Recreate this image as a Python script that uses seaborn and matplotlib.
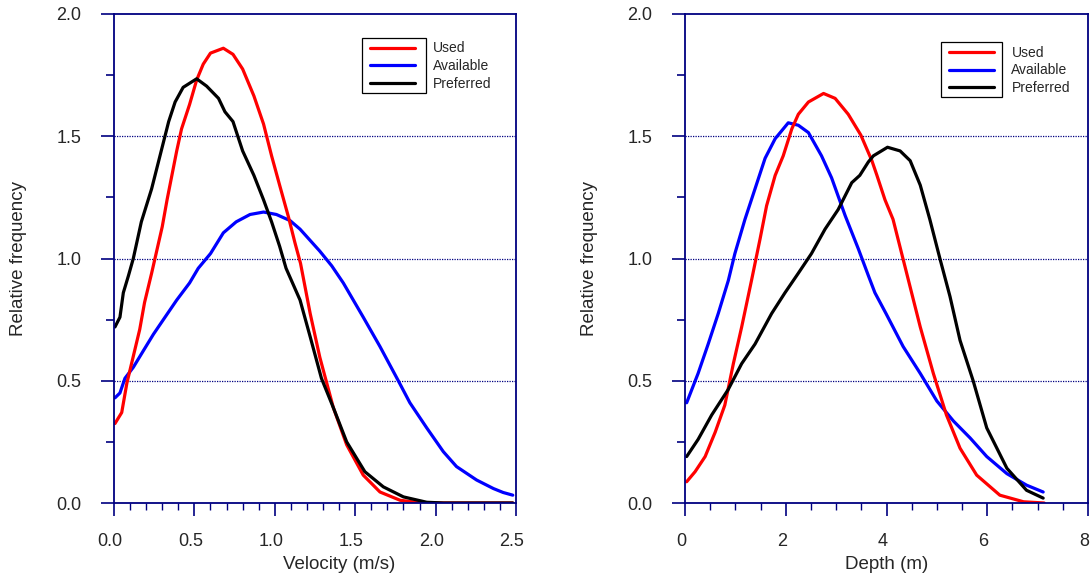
import numpy as np
import pandas as pd
import matplotlib
matplotlib.use("Agg")
import matplotlib.pyplot as plt
import seaborn as sns
from matplotlib.ticker import MultipleLocator, FormatStrFormatter
from matplotlib.patches import Rectangle
from matplotlib.transforms import Bbox, IdentityTransform, ScaledTranslation

# ---------------- data ----------------
series_names = ["Used", "Available", "Preferred"]

# Left panel: velocity
vel_used_x = [0.006, 0.048, 0.08, 0.12, 0.16, 0.19, 0.234, 0.30, 0.33, 0.36, 0.39, 0.42, 0.47,
              0.514, 0.555, 0.60, 0.68, 0.74, 0.80, 0.87, 0.93, 0.98, 1.03, 1.085, 1.125, 1.16,
              1.22, 1.28, 1.364, 1.447, 1.55, 1.654, 1.78, 1.92, 2.2, 2.48]
vel_used_y = [0.325, 0.37, 0.49, 0.60, 0.71, 0.82, 0.94, 1.13, 1.24, 1.34, 1.44, 1.53, 1.63,
              1.73, 1.795, 1.84, 1.86, 1.835, 1.775, 1.665, 1.55, 1.42, 1.30, 1.17, 1.065, 0.98,
              0.775, 0.596, 0.39, 0.238, 0.114, 0.045, 0.011, 0.0, 0.0, 0.0]

vel_avail_x = [0.006, 0.037, 0.068, 0.12, 0.18, 0.245, 0.307, 0.39, 0.47, 0.524, 0.60, 0.68,
               0.76, 0.846, 0.93, 1.01, 1.095, 1.157, 1.28, 1.354, 1.426, 1.55, 1.654, 1.768,
               1.84, 1.945, 2.048, 2.13, 2.255, 2.36, 2.42, 2.48]
vel_avail_y = [0.43, 0.45, 0.51, 0.555, 0.62, 0.69, 0.75, 0.83, 0.90, 0.96, 1.02, 1.105,
               1.15, 1.18, 1.19, 1.18, 1.155, 1.12, 1.03, 0.97, 0.90, 0.76, 0.64, 0.50,
               0.41, 0.307, 0.21, 0.149, 0.094, 0.059, 0.043, 0.032]

vel_pref_x = [0.006, 0.037, 0.058, 0.09, 0.12, 0.17, 0.234, 0.286, 0.34, 0.38, 0.43, 0.514,
              0.576, 0.65, 0.69, 0.74, 0.80, 0.87, 0.93, 0.98, 1.03, 1.07, 1.157, 1.22, 1.29,
              1.364, 1.447, 1.56, 1.675, 1.80, 1.945, 2.05, 2.48]
vel_pref_y = [0.72, 0.76, 0.86, 0.93, 1.0, 1.15, 1.285, 1.42, 1.56, 1.64, 1.70, 1.735,
              1.705, 1.655, 1.60, 1.56, 1.44, 1.34, 1.24, 1.15, 1.05, 0.96, 0.83, 0.68, 0.51,
              0.39, 0.25, 0.128, 0.066, 0.025, 0.003, 0.0, 0.0]

# Right panel: depth
dep_used_x = [0.033, 0.2, 0.40, 0.60, 0.79, 0.96, 1.125, 1.32, 1.49, 1.62, 1.79, 1.95, 2.12,
              2.25, 2.45, 2.75, 2.98, 3.24, 3.49, 3.71, 3.81, 3.97, 4.13, 4.40, 4.67, 4.93,
              5.19, 5.46, 5.79, 6.25, 6.72, 7.13]
dep_used_y = [0.087, 0.128, 0.19, 0.29, 0.40, 0.57, 0.72, 0.91, 1.08, 1.216, 1.34, 1.42, 1.53,
              1.59, 1.64, 1.675, 1.655, 1.59, 1.505, 1.40, 1.34, 1.24, 1.16, 0.94, 0.72, 0.53,
              0.36, 0.224, 0.114, 0.032, 0.005, 0.0]

dep_avail_x = [0.033, 0.26, 0.46, 0.66, 0.86, 0.99, 1.19, 1.39, 1.59, 1.79, 2.05, 2.25, 2.45,
               2.71, 2.91, 3.18, 3.44, 3.64, 3.77, 3.99, 4.33, 4.67, 5.0, 5.33, 5.66, 5.99,
               6.39, 6.78, 7.11]
dep_avail_y = [0.41, 0.53, 0.65, 0.775, 0.91, 1.02, 1.16, 1.285, 1.41, 1.49, 1.555, 1.545, 1.515,
               1.42, 1.33, 1.175, 1.04, 0.93, 0.86, 0.775, 0.64, 0.53, 0.417, 0.335, 0.266, 0.19,
               0.12, 0.073, 0.045]

dep_pref_x = [0.033, 0.26, 0.53, 0.86, 1.125, 1.39, 1.72, 1.985, 2.25, 2.51, 2.78, 3.04, 3.31,
              3.47, 3.64, 3.74, 4.02, 4.27, 4.47, 4.67, 4.86, 5.06, 5.26, 5.46, 5.72, 5.99,
              6.39, 6.78, 7.11]
dep_pref_y = [0.19, 0.26, 0.36, 0.465, 0.57, 0.65, 0.775, 0.86, 0.94, 1.02, 1.12, 1.20, 1.31,
              1.34, 1.395, 1.42, 1.455, 1.44, 1.40, 1.30, 1.16, 1.0, 0.845, 0.665, 0.50, 0.307,
              0.142, 0.052, 0.02]

y_ticks = [0.0, 0.5, 1.0, 1.5, 2.0]
vel_ticks = [0.0, 0.5, 1.0, 1.5, 2.0, 2.5]
dep_ticks = [0, 2, 4, 6, 8]

# ---------------- style ----------------
sns.set_style("white")
plt.rcParams["font.family"] = ["Liberation Sans", "DejaVu Sans"]

NAVY = "#000080"
colors = {"Used": "#ff0000", "Available": "#0000ff", "Preferred": "#000000"}
LW = 2.3
TICK_FS = 13
LABEL_FS = 13.5
LEG_FS = 10

W, H = 1090, 581
fig = plt.figure(figsize=(W / 100, H / 100), dpi=100)
ax1 = fig.add_axes([114 / W, 1 - 503 / H, (516 - 114) / W, (503 - 14) / H])
ax2 = fig.add_axes([685 / W, 1 - 503 / H, (1088 - 685) / W, (503 - 14) / H])


def make_df(xs, ys):
    frames = []
    for name, x, y in zip(series_names, xs, ys):
        frames.append(pd.DataFrame({"x": x, "y": y, "series": name}))
    return pd.concat(frames, ignore_index=True)


panels = [
    (ax1, make_df([vel_used_x, vel_avail_x, vel_pref_x], [vel_used_y, vel_avail_y, vel_pref_y]),
     vel_ticks, 0.1, "%.1f", "Velocity (m/s)", (0.638, 0.944), 0.56, -0.2164),
    (ax2, make_df([dep_used_x, dep_avail_x, dep_pref_x], [dep_used_y, dep_avail_y, dep_pref_y]),
     dep_ticks, 0.5, "%d", "Depth (m)", (0.656, 0.935), 0.5, -0.216),
]

shift_left = ScaledTranslation(-4 / 100, 0, fig.dpi_scale_trans)

legends = []
for ax, df, xt, xminor, xfmt, xlabel, legpos, xl_x, yl_x in panels:
    handles = {}
    for name in ["Available", "Used", "Preferred"]:
        sub = df[df["series"] == name]
        sns.lineplot(data=sub, x="x", y="y", color=colors[name], linewidth=LW,
                     sort=False, estimator=None, ax=ax, legend=False)
        handles[name] = ax.get_lines()[-1]

    ax.set_xlim(xt[0], xt[-1])
    ax.set_ylim(0, 2.0)
    ax.set_xticks(xt)
    ax.set_yticks(y_ticks)
    ax.xaxis.set_minor_locator(MultipleLocator(xminor))
    ax.yaxis.set_minor_locator(MultipleLocator(0.25))
    ax.xaxis.set_major_formatter(FormatStrFormatter(xfmt))
    ax.yaxis.set_major_formatter(FormatStrFormatter("%.1f"))

    ax.grid(False)
    for yv in y_ticks[1:-1]:
        ax.axhline(yv, color=NAVY, linestyle=(0, (1, 1)), linewidth=0.9, zorder=0.5)

    for sp in ax.spines.values():
        sp.set_visible(True)
        sp.set_color(NAVY)
        sp.set_linewidth(1.3)

    ax.tick_params(axis="y", which="major", direction="out", length=9.5, width=1.2,
                   color=NAVY, labelsize=TICK_FS, pad=14, left=True)
    ax.tick_params(axis="y", which="minor", direction="out", length=5.8, width=1.2,
                   color=NAVY, left=True)
    ax.tick_params(axis="x", which="major", direction="out", length=9.3, width=1.2,
                   color=NAVY, labelsize=TICK_FS, pad=12, bottom=True)
    ax.tick_params(axis="x", which="minor", direction="out", length=5.2, width=1.0,
                   color=NAVY, bottom=True)
    for lab in ax.get_xticklabels():
        lab.set_transform(lab.get_transform() + shift_left)

    ax.set_xlabel(xlabel, fontsize=LABEL_FS)
    ax.set_ylabel("Relative frequency", fontsize=LABEL_FS)
    ax.xaxis.set_label_coords(xl_x, -0.109)
    ax.yaxis.set_label_coords(yl_x, 0.5)

    leg = ax.legend([handles[n] for n in series_names], series_names, loc="upper left",
                    bbox_to_anchor=legpos, frameon=False, fontsize=LEG_FS, handlelength=3.2,
                    handletextpad=1.27, labelspacing=0.26, borderpad=0, borderaxespad=0)
    for h in leg.legend_handles:
        h.set_linewidth(LW)
    legends.append(leg)

# box drawn around the legend handles only, as in the reference
fig.canvas.draw()
renderer = fig.canvas.get_renderer()
for leg, rpad in zip(legends, [11, 8]):
    bb = Bbox.union([h.get_window_extent(renderer) for h in leg.legend_handles])
    rect = Rectangle((bb.x0 - 8, bb.y0 - 10), bb.width + 8 + rpad, bb.height + 19.5,
                     transform=IdentityTransform(), fill=False, edgecolor="black",
                     linewidth=0.9)
    fig.add_artist(rect)

fig.savefig("out.png", dpi=100)
